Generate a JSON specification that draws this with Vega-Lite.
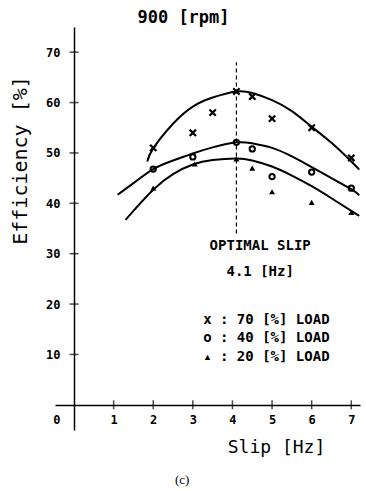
{
  "$schema": "https://vega.github.io/schema/vega-lite/v6.json",
  "width": 305,
  "height": 403,
  "autosize": "none",
  "padding": {"left": 55, "top": 27, "right": 6, "bottom": 61},
  "background": "white",
  "config": {"view": {"stroke": null}, "font": "DejaVu Sans Mono"},
  "title": {"text": "900 [rpm]", "font": "DejaVu Sans Mono", "fontSize": 17, "fontWeight": "bold", "anchor": "middle", "dx": -24, "offset": -13, "baseline": "alphabetic", "color": "black"},
  "datasets": {
    "points": [
      {"slip": 2.0, "eff": 51.0, "load": "70"},
      {"slip": 3.0, "eff": 54.0, "load": "70"},
      {"slip": 3.5, "eff": 58.0, "load": "70"},
      {"slip": 4.1, "eff": 62.2, "load": "70"},
      {"slip": 4.5, "eff": 61.2, "load": "70"},
      {"slip": 5.0, "eff": 56.8, "load": "70"},
      {"slip": 6.0, "eff": 55.0, "load": "70"},
      {"slip": 7.0, "eff": 49.0, "load": "70"},
      {"slip": 2.0, "eff": 46.8, "load": "40"},
      {"slip": 3.0, "eff": 49.2, "load": "40"},
      {"slip": 4.1, "eff": 52.1, "load": "40"},
      {"slip": 4.5, "eff": 50.8, "load": "40"},
      {"slip": 5.0, "eff": 45.3, "load": "40"},
      {"slip": 6.0, "eff": 46.2, "load": "40"},
      {"slip": 7.0, "eff": 43.0, "load": "40"},
      {"slip": 2.0, "eff": 43.0, "load": "20"},
      {"slip": 3.05, "eff": 47.8, "load": "20"},
      {"slip": 4.1, "eff": 48.8, "load": "20"},
      {"slip": 4.5, "eff": 47.0, "load": "20"},
      {"slip": 5.0, "eff": 42.3, "load": "20"},
      {"slip": 6.0, "eff": 40.2, "load": "20"},
      {"slip": 7.0, "eff": 38.2, "load": "20"}
    ],
    "curves": [
      {"slip": 1.85, "eff": 48.3, "load": "70"},
      {"slip": 2.0, "eff": 50.9, "load": "70"},
      {"slip": 2.5, "eff": 55.8, "load": "70"},
      {"slip": 3.0, "eff": 59.2, "load": "70"},
      {"slip": 3.5, "eff": 61.0, "load": "70"},
      {"slip": 4.1, "eff": 62.2, "load": "70"},
      {"slip": 4.5, "eff": 61.9, "load": "70"},
      {"slip": 5.0, "eff": 60.5, "load": "70"},
      {"slip": 5.5, "eff": 58.3, "load": "70"},
      {"slip": 6.0, "eff": 55.2, "load": "70"},
      {"slip": 6.5, "eff": 52.0, "load": "70"},
      {"slip": 7.0, "eff": 48.3, "load": "70"},
      {"slip": 7.2, "eff": 46.7, "load": "70"},
      {"slip": 1.1, "eff": 41.7, "load": "40"},
      {"slip": 1.5, "eff": 44.0, "load": "40"},
      {"slip": 2.0, "eff": 46.8, "load": "40"},
      {"slip": 2.5, "eff": 48.5, "load": "40"},
      {"slip": 3.0, "eff": 49.9, "load": "40"},
      {"slip": 3.5, "eff": 51.1, "load": "40"},
      {"slip": 4.1, "eff": 52.1, "load": "40"},
      {"slip": 4.5, "eff": 51.9, "load": "40"},
      {"slip": 5.0, "eff": 51.0, "load": "40"},
      {"slip": 5.5, "eff": 49.3, "load": "40"},
      {"slip": 6.0, "eff": 47.2, "load": "40"},
      {"slip": 6.5, "eff": 45.0, "load": "40"},
      {"slip": 7.0, "eff": 42.8, "load": "40"},
      {"slip": 7.2, "eff": 41.6, "load": "40"},
      {"slip": 1.3, "eff": 36.7, "load": "20"},
      {"slip": 1.5, "eff": 38.5, "load": "20"},
      {"slip": 2.0, "eff": 42.7, "load": "20"},
      {"slip": 2.5, "eff": 45.8, "load": "20"},
      {"slip": 3.0, "eff": 47.7, "load": "20"},
      {"slip": 3.5, "eff": 48.6, "load": "20"},
      {"slip": 4.1, "eff": 48.9, "load": "20"},
      {"slip": 4.5, "eff": 48.5, "load": "20"},
      {"slip": 5.0, "eff": 47.3, "load": "20"},
      {"slip": 5.5, "eff": 45.5, "load": "20"},
      {"slip": 6.0, "eff": 43.4, "load": "20"},
      {"slip": 6.5, "eff": 41.0, "load": "20"},
      {"slip": 7.0, "eff": 38.5, "load": "20"},
      {"slip": 7.2, "eff": 37.5, "load": "20"}
    ]
  },
  "layer": [
    {
      "data": {"values": [{"slip": 4.1, "lo": 34, "hi": 68}]},
      "mark": {"type": "rule", "strokeDash": [4, 3], "color": "black", "strokeWidth": 1.2},
      "encoding": {
        "x": {"field": "slip", "type": "quantitative", "scale": {"domain": [-0.48, 7.22], "nice": false, "zero": false},
          "axis": {"title": "Slip   [Hz]", "values": [1, 2, 3, 4, 5, 6, 7], "offset": -25, "ticks": false, "tickSize": 0, "labelPadding": 9, "labelFont": "DejaVu Sans Mono", "labelFontSize": 12, "labelFontWeight": "bold", "labelColor": "black", "domainColor": "black", "domainWidth": 1.5, "grid": false, "titleFont": "DejaVu Sans Mono", "titleFontSize": 18, "titleFontWeight": "normal", "titleColor": "black", "titleX": 221, "titleY": 33}},
        "y": {"field": "lo", "type": "quantitative", "scale": {"domain": [-5, 75], "nice": false, "zero": false},
          "axis": {"title": "Efficiency [%]", "values": [10, 20, 30, 40, 50, 60, 70], "offset": -19, "ticks": false, "tickSize": 0, "labelPadding": 14, "labelFont": "DejaVu Sans Mono", "labelFontSize": 12, "labelFontWeight": "bold", "labelColor": "black", "domainColor": "black", "domainWidth": 1.5, "grid": false, "titleFont": "DejaVu Sans Mono", "titleFontSize": 20, "titleFontWeight": "normal", "titleColor": "black", "titleX": -44, "titleY": 133}},
        "y2": {"field": "hi"}
      }
    },
    {
      "data": {"name": "curves"},
      "mark": {"type": "line", "interpolate": "natural", "color": "black", "strokeWidth": 2},
      "encoding": {
        "x": {"field": "slip", "type": "quantitative"},
        "y": {"field": "eff", "type": "quantitative"},
        "detail": {"field": "load"}
      }
    },
    {
      "data": {"values": [{"slip": 1}, {"slip": 2}, {"slip": 3}, {"slip": 4}, {"slip": 5}, {"slip": 6}, {"slip": 7}]},
      "mark": {"type": "tick", "orient": "vertical", "size": 9, "thickness": 1.5, "color": "black"},
      "encoding": {
        "x": {"field": "slip", "type": "quantitative"},
        "y": {"datum": 0, "type": "quantitative"}
      }
    },
    {
      "data": {"values": [{"eff": 10}, {"eff": 20}, {"eff": 30}, {"eff": 40}, {"eff": 50}, {"eff": 60}, {"eff": 70}]},
      "mark": {"type": "tick", "orient": "horizontal", "size": 9, "thickness": 1.5, "color": "black"},
      "encoding": {
        "x": {"datum": 0, "type": "quantitative"},
        "y": {"field": "eff", "type": "quantitative"}
      }
    },
    {
      "data": {"name": "points"},
      "transform": [{"filter": "datum.load == '70'"}],
      "mark": {"type": "point", "shape": "M-1,-1L1,1M-1,1L1,-1", "filled": false, "size": 40, "strokeWidth": 2.2, "color": "black", "opacity": 1},
      "encoding": {
        "x": {"field": "slip", "type": "quantitative"},
        "y": {"field": "eff", "type": "quantitative"}
      }
    },
    {
      "data": {"name": "points"},
      "transform": [{"filter": "datum.load == '40'"}],
      "mark": {"type": "point", "shape": "circle", "filled": false, "size": 28, "strokeWidth": 2, "color": "black", "opacity": 1},
      "encoding": {
        "x": {"field": "slip", "type": "quantitative"},
        "y": {"field": "eff", "type": "quantitative"}
      }
    },
    {
      "data": {"name": "points"},
      "transform": [{"filter": "datum.load == '20'"}],
      "mark": {"type": "point", "shape": "triangle-up", "filled": true, "size": 36, "color": "black", "opacity": 1},
      "encoding": {
        "x": {"field": "slip", "type": "quantitative"},
        "y": {"field": "eff", "type": "quantitative"}
      }
    },
    {
      "data": {"values": [{"label": "OPTIMAL SLIP", "slip": 4.7, "eff": 31.6}, {"label": "4.1 [Hz]", "slip": 4.7, "eff": 26.4}]},
      "mark": {"type": "text", "font": "DejaVu Sans Mono", "fontSize": 14, "fontWeight": "bold", "align": "center", "baseline": "middle", "color": "black"},
      "encoding": {
        "x": {"field": "slip", "type": "quantitative"},
        "y": {"field": "eff", "type": "quantitative"},
        "text": {"field": "label"}
      }
    },
    {
      "data": {"values": [{"label": "x : 70 [%] LOAD", "slip": 3.26, "eff": 16.9}, {"label": "o : 40 [%] LOAD", "slip": 3.26, "eff": 13.3}, {"label": "▴ : 20 [%] LOAD", "slip": 3.26, "eff": 9.5}]},
      "mark": {"type": "text", "font": "DejaVu Sans Mono", "fontSize": 14, "fontWeight": "bold", "align": "left", "baseline": "middle", "color": "black"},
      "encoding": {
        "x": {"field": "slip", "type": "quantitative"},
        "y": {"field": "eff", "type": "quantitative"},
        "text": {"field": "label"}
      }
    },
    {
      "data": {"values": [{"label": "0", "slip": -0.43, "eff": -3}]},
      "mark": {"type": "text", "font": "DejaVu Sans Mono", "fontSize": 12, "fontWeight": "bold", "align": "center", "baseline": "middle", "color": "black"},
      "encoding": {
        "x": {"field": "slip", "type": "quantitative"},
        "y": {"field": "eff", "type": "quantitative"},
        "text": {"field": "label"}
      }
    },
    {
      "data": {"values": [{"label": "(c)", "slip": 2.73, "eff": -15}]},
      "mark": {"type": "text", "font": "Liberation Serif", "fontSize": 13, "align": "center", "baseline": "middle", "color": "black"},
      "encoding": {
        "x": {"field": "slip", "type": "quantitative"},
        "y": {"field": "eff", "type": "quantitative"},
        "text": {"field": "label"}
      }
    }
  ]
}
